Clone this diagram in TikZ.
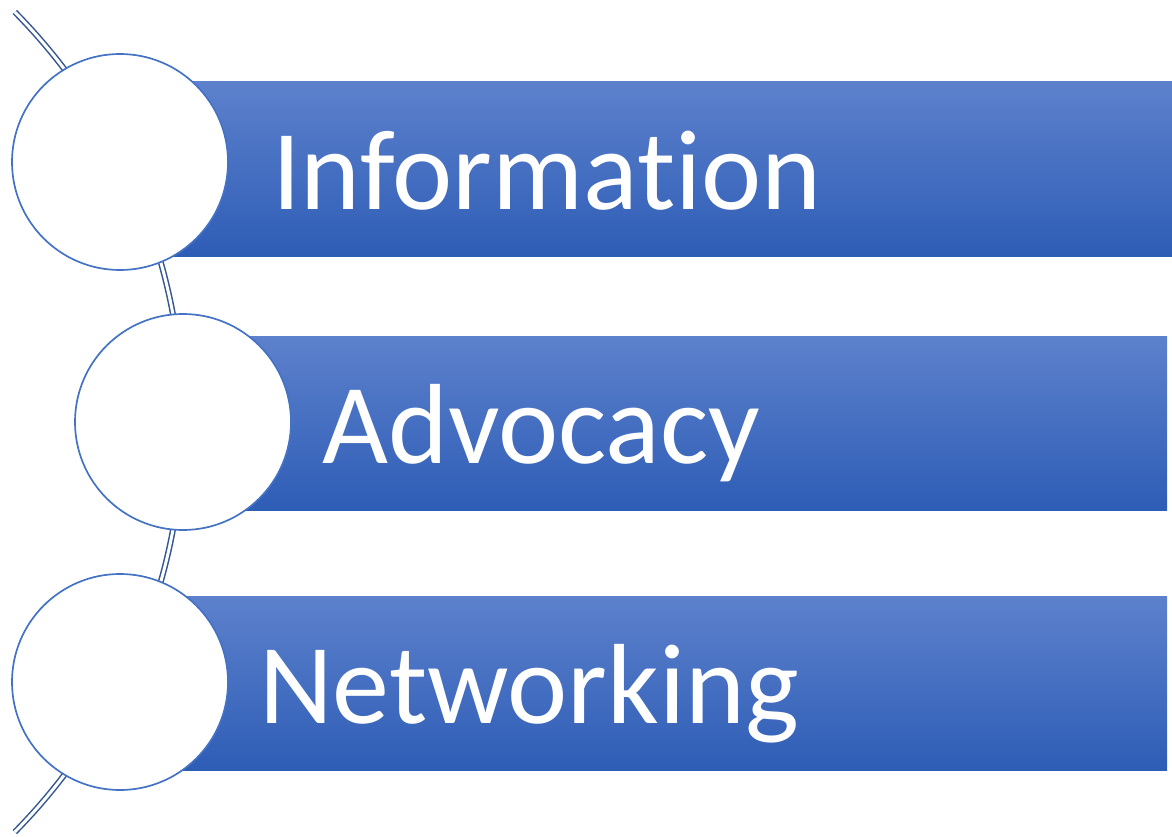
\documentclass[tikz,border=0pt]{standalone}
\usepackage{fontspec}
\setmainfont{Carlito}[Ligatures = NoCommon]
\definecolor{ringblue}{RGB}{68,114,196}
\definecolor{bartop}{RGB}{93,129,204}
\definecolor{barbottom}{RGB}{46,93,182}
\begin{document}
\begin{tikzpicture}[
    x = 1pt, y = -1pt,
    bar/.style = {top color = bartop, bottom color = barbottom, draw = none},
    ring/.style = {circle, draw = ringblue, line width = 1.7pt, fill = white,
      minimum size = 216pt, inner sep = 0pt},
    label/.style = {anchor = base west, text = white, inner sep = 0pt,
      font = \fontsize{114}{118}\selectfont},
    spine/.style = {draw = ringblue!75!black, line width = 1.5pt,
      double = white, double distance = 3pt},
    ]
    \useasboundingbox (0, 0) rectangle (1172, 837);

    % the big arc that runs through the circles
    \coordinate (hub) at (-401, 422);
    \draw[spine] (hub) ++(-44.6:584) arc[start angle = -44.6, end angle = 44.6, radius = 584];

    % bars behind the circles
    \fill[bar] (120, 82) rectangle (1172, 256);
    \fill[bar] (183, 336) rectangle (1167, 510);
    \fill[bar] (120, 596) rectangle (1167, 770);

    % circles
    \node[ring] (c1) at (120, 162) {};
    \node[ring] (c2) at (183, 422) {};
    \node[ring] (c3) at (120, 682) {};

    % texts
    \node[label] (t1) at (272, 210) {Information};
    \node[label] (t2) at (322, 463) {Advocacy};
    \node[label] (t3) at (259, 723) {Networking};
\end{tikzpicture}
\end{document}
